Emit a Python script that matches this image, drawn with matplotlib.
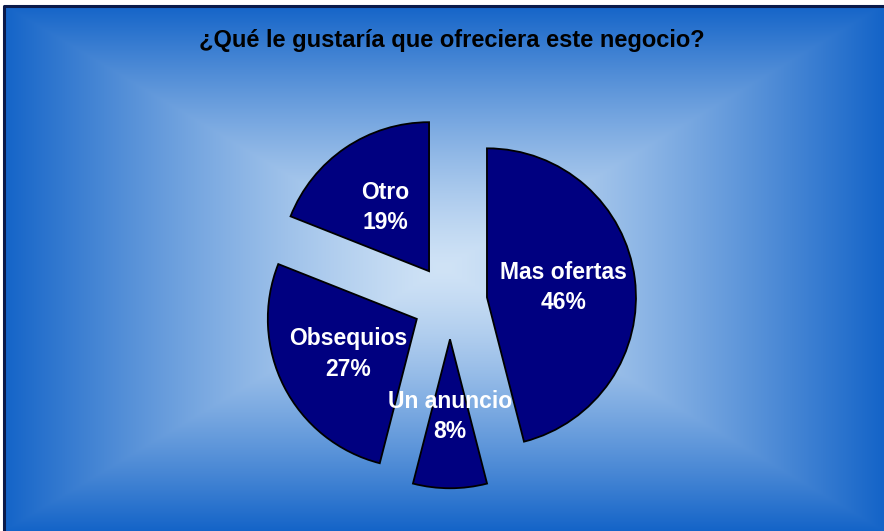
import numpy as np
import matplotlib
matplotlib.use("Agg")
import matplotlib.pyplot as plt

TITLE = "¿Qué le gustaría que ofreciera este negocio?"
CATEGORIES = ["Mas ofertas", "Un anuncio", "Obsequios", "Otro"]
PERCENTS = [46, 8, 27, 19]

W, H = 884, 531
R_PX = 149.0                # pie radius in pixels
CX, CY = 450.0, 302.0       # pie centre (pixels, from top-left)
EXPLODE = 0.25
EDGE_RGB = np.array([20, 100, 200]) / 255
MID_RGB = np.array([208, 227, 246]) / 255

fig = plt.figure(figsize=(W / 100, H / 100), dpi=100)
fig.patch.set_facecolor("white")
ax = fig.add_axes([0, 0, 1, 1])
ax.set_aspect("equal")
ax.axis("off")

# rectangular "from centre" gradient panel
x0, y0, x1, y1 = 4, 6, W, H
gx = np.linspace(-1, 1, 600)
gy = np.linspace(-1, 1, 400)
GX, GY = np.meshgrid(gx, gy)
t = np.maximum(np.abs(GX), np.abs(GY)) ** 1.3
img = MID_RGB[None, None, :] * (1 - t[..., None]) + EDGE_RGB[None, None, :] * t[..., None]
ext = [(x0 - CX) / R_PX, (x1 - CX) / R_PX, (CY - y1) / R_PX, (CY - y0) / R_PX]
ax.imshow(img, extent=ext, origin="upper", zorder=0, aspect="auto", interpolation="bilinear")
ax.plot([ext[0], ext[0], ext[1]], [ext[2], ext[3], ext[3]], color="#0a1a4a",
        lw=2.2, zorder=1, solid_capstyle="butt")

labels = [f"{c}\n{p}%" for c, p in zip(CATEGORIES, PERCENTS)]
wedges, texts = ax.pie(PERCENTS, labels=labels, startangle=90, counterclock=False,
                       explode=[EXPLODE] * len(PERCENTS), colors=["#000080"] * len(PERCENTS),
                       labeldistance=0.52,
                       wedgeprops=dict(edgecolor="black", linewidth=1.3),
                       textprops=dict(color="white", fontsize=16.5, fontweight="bold",
                                      family="Liberation Sans"))
for w in wedges:
    w.set_zorder(2)
for tx in texts:
    tx.set_ha("center"); tx.set_va("center")
    tx.set_linespacing(1.4); tx.set_zorder(3)

ax.set_xlim(-CX / R_PX, (W - CX) / R_PX)
ax.set_ylim((CY - H) / R_PX, CY / R_PX)

fig.text(452 / W, 1 - 40 / H, TITLE, ha="center", va="center", fontsize=17,
         fontweight="bold", family="Liberation Sans", color="black")

fig.savefig("out.png", dpi=100)
